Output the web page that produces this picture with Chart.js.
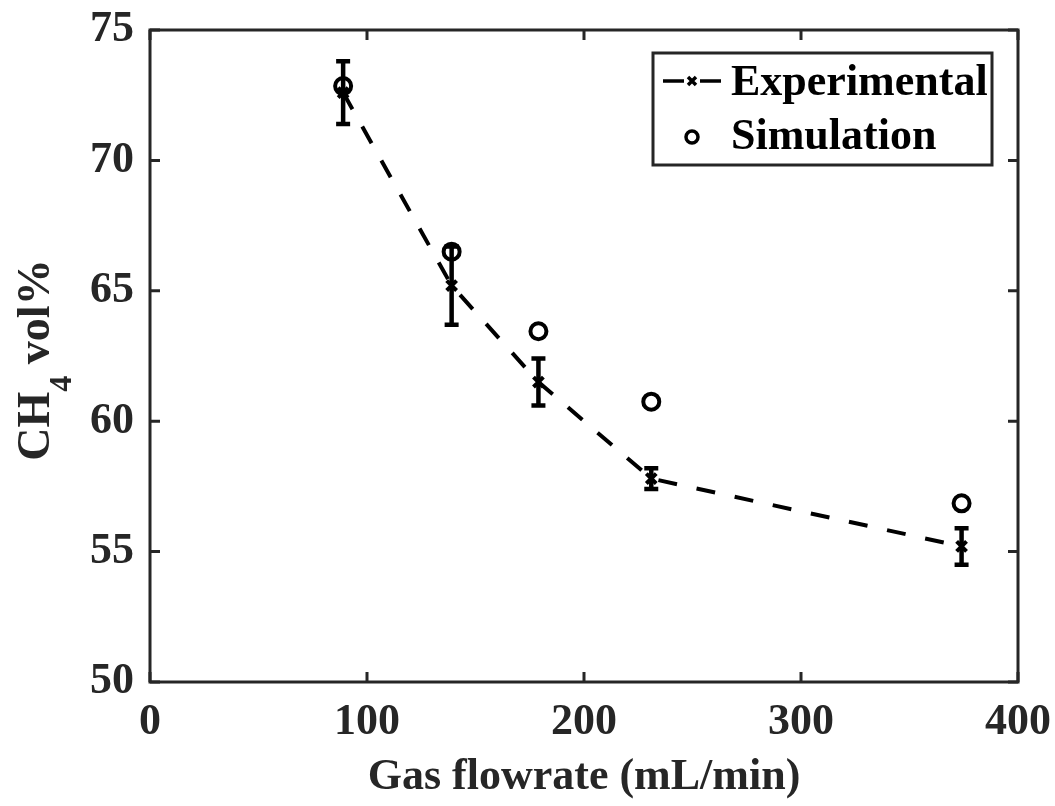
<!DOCTYPE html>
<html>
<head>
<meta charset="utf-8">
<script src="https://cdn.jsdelivr.net/npm/chart.js@4.4.1/dist/chart.umd.min.js"></script>
<style>
  html, body { margin: 0; padding: 0; background: #fff; }
  #wrap { width: 1055px; height: 806px; }
</style>
</head>
<body>
<div id="wrap"><canvas id="chart" width="1055" height="806"></canvas></div>
<script>
// data
const flowrate = [89, 139, 179, 231, 374];
const expValues = [72.6, 65.2, 61.5, 57.8, 55.2];
const expErrors = [1.2, 1.5, 0.9, 0.4, 0.7];
const simValues = [72.85, 66.5, 63.45, 60.75, 56.85];
const xTicks = [0, 100, 200, 300, 400];
const yTicks = [50, 55, 60, 65, 70, 75];

const ink = '#262626';
const fontFamily = '"Liberation Serif", "Times New Roman", serif';

// vertical error bars on the experimental series
const errorBars = {
    id: 'errorBars',
    afterDatasetsDraw(chart) {
        const { ctx, scales: { x, y } } = chart;
        ctx.save();
        ctx.strokeStyle = '#000';
        ctx.lineWidth = 4.5;
        flowrate.forEach((fx, i) => {
            const px = x.getPixelForValue(fx);
            const top = y.getPixelForValue(expValues[i] + expErrors[i]);
            const bot = y.getPixelForValue(expValues[i] - expErrors[i]);
            ctx.beginPath();
            ctx.moveTo(px, top); ctx.lineTo(px, bot);
            ctx.moveTo(px - 7, top); ctx.lineTo(px + 7, top);
            ctx.moveTo(px - 7, bot); ctx.lineTo(px + 7, bot);
            ctx.stroke();
        });
        ctx.restore();
    }
};

// MATLAB style box with inward ticks, y title with subscript, legend
const frame = {
    id: 'frame',
    afterDraw(chart) {
        const { ctx, chartArea: a, scales: { x, y } } = chart;
        ctx.save();
        ctx.strokeStyle = ink;
        ctx.lineWidth = 3;
        ctx.strokeRect(a.left, a.top, a.right - a.left, a.bottom - a.top);
        const len = 10;
        ctx.beginPath();
        xTicks.forEach(v => {
            const px = x.getPixelForValue(v);
            ctx.moveTo(px, a.bottom); ctx.lineTo(px, a.bottom - len);
            ctx.moveTo(px, a.top); ctx.lineTo(px, a.top + len);
        });
        yTicks.forEach(v => {
            const py = y.getPixelForValue(v);
            ctx.moveTo(a.left, py); ctx.lineTo(a.left + len, py);
            ctx.moveTo(a.right, py); ctx.lineTo(a.right - len, py);
        });
        ctx.stroke();

        // y axis title: CH4 vol%
        ctx.fillStyle = ink;
        ctx.translate(49, 360);
        ctx.rotate(-Math.PI / 2);
        ctx.textBaseline = 'alphabetic';
        ctx.textAlign = 'left';
        const big = 'bold 46px ' + fontFamily;
        const small = 'bold 32px ' + fontFamily;
        ctx.font = big;
        const w1 = ctx.measureText('CH').width;
        const w3 = ctx.measureText(' vol%').width;
        ctx.font = small;
        const w2 = ctx.measureText('4').width;
        const sx = -(w1 + w2 + w3) / 2;
        ctx.font = big;
        ctx.fillText('CH', sx, 0);
        ctx.font = small;
        ctx.fillText('4', sx + w1, 22);
        ctx.font = big;
        ctx.fillText(' vol%', sx + w1 + w2, 0);
        ctx.setTransform(1, 0, 0, 1, 0, 0);

        // legend
        const lx = 653, ly = 53, lw = 339, lh = 112;
        ctx.fillStyle = '#fff';
        ctx.fillRect(lx, ly, lw, lh);
        ctx.strokeStyle = ink;
        ctx.lineWidth = 3;
        ctx.strokeRect(lx, ly, lw, lh);
        ctx.strokeStyle = '#000';
        ctx.lineWidth = 3.5;
        ctx.beginPath();
        ctx.moveTo(663, 81); ctx.lineTo(684, 81);
        ctx.moveTo(700, 81); ctx.lineTo(721, 81);
        ctx.stroke();
        ctx.beginPath();
        ctx.moveTo(688, 77); ctx.lineTo(696, 85);
        ctx.moveTo(696, 77); ctx.lineTo(688, 85);
        ctx.stroke();
        ctx.beginPath();
        ctx.arc(692, 137, 6, 0, Math.PI * 2);
        ctx.stroke();
        ctx.fillStyle = '#000';
        ctx.font = 'bold 44px ' + fontFamily;
        ctx.textBaseline = 'middle';
        ctx.fillText('Experimental', 731, 84);
        ctx.fillText('Simulation', 731, 138);
        ctx.restore();
    }
};

new Chart(document.getElementById('chart'), {
    type: 'scatter',
    data: {
        datasets: [{
            label: 'Experimental',
            data: flowrate.map((fx, i) => ({ x: fx, y: expValues[i] })),
            showLine: true,
            borderColor: '#000',
            borderWidth: 4,
            borderDash: [19, 20],
            pointStyle: 'crossRot',
            pointRadius: 7,
            pointBorderWidth: 4,
            pointBorderColor: '#000'
        }, {
            label: 'Simulation',
            data: flowrate.map((fx, i) => ({ x: fx, y: simValues[i] })),
            showLine: false,
            pointStyle: 'circle',
            pointRadius: 8,
            pointBorderWidth: 4,
            pointBorderColor: '#000',
            pointBackgroundColor: 'rgba(0,0,0,0)'
        }]
    },
    options: {
        responsive: false,
        animation: false,
        events: [],
        layout: { padding: { top: 30, right: 37, left: 0, bottom: 0 } },
        plugins: {
            legend: { display: false },
            tooltip: { enabled: false }
        },
        scales: {
            x: {
                type: 'linear',
                min: 0,
                max: 400,
                afterFit: s => { s.height = 124; s.paddingLeft = 0; s.paddingRight = 0; },
                afterBuildTicks: s => { s.ticks = xTicks.map(v => ({ value: v })); },
                grid: { display: false, drawTicks: false },
                border: { display: false },
                ticks: {
                    padding: 14,
                    color: ink,
                    font: { family: fontFamily, size: 44, weight: 'bold' }
                },
                title: {
                    display: true,
                    text: 'Gas flowrate (mL/min)',
                    color: ink,
                    padding: { top: 0, bottom: 2 },
                    font: { family: fontFamily, size: 44, weight: 'bold' }
                }
            },
            y: {
                type: 'linear',
                min: 50,
                max: 75,
                afterFit: s => { s.width = 150; s.paddingTop = 0; s.paddingBottom = 0; },
                afterBuildTicks: s => { s.ticks = yTicks.map(v => ({ value: v })); },
                grid: { display: false, drawTicks: false },
                border: { display: false },
                ticks: {
                    padding: 16,
                    color: ink,
                    font: { family: fontFamily, size: 44, weight: 'bold' }
                }
            }
        }
    },
    plugins: [errorBars, frame]
});
</script>
</body>
</html>
